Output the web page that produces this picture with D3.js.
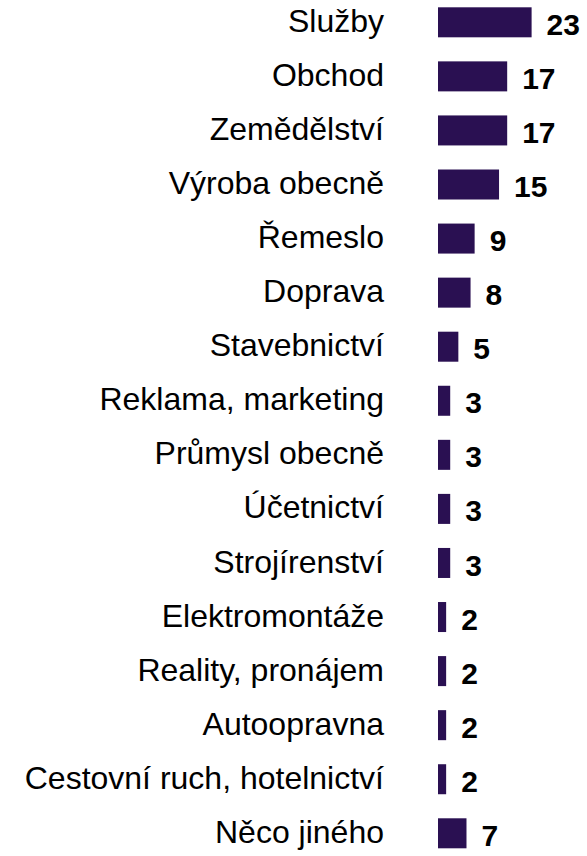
<!DOCTYPE html>
<html>
<head>
<meta charset="utf-8">
<script src="https://cdn.jsdelivr.net/npm/d3@7"></script>
<style>
  body { margin: 0; background: #fff; }
  svg { display: block; }
</style>
</head>
<body>
<svg id="chart" width="587" height="856"></svg>
<script>
const categories = [
    "Služby", "Obchod", "Zemědělství", "Výroba obecně", "Řemeslo", "Doprava",
    "Stavebnictví", "Reklama, marketing", "Průmysl obecně", "Účetnictví",
    "Strojírenství", "Elektromontáže", "Reality, pronájem", "Autoopravna",
    "Cestovní ruch, hotelnictví", "Něco jiného"
];
const values = [23, 17, 17, 15, 9, 8, 5, 3, 3, 3, 3, 2, 2, 2, 2, 7];

const data = categories.map((c, i) => ({name: c, value: values[i]}));

const svg = d3.select("#chart");
const barLeft = 438;
const labelRight = 384;

const x = d3.scaleLinear()
    .domain([0, 23])
    .range([barLeft, barLeft + 93.6]);

const y = d3.scaleBand()
    .domain(categories)
    .range([7.3, 848.3])
    .paddingInner(0.445)
    .paddingOuter(0);

// bars
svg.append("g")
    .selectAll("rect")
    .data(data)
    .join("rect")
    .attr("x", x(0))
    .attr("y", d => y(d.name))
    .attr("width", d => x(d.value) - x(0))
    .attr("height", y.bandwidth())
    .attr("fill", "#2a1052");

// category labels
svg.append("g")
    .attr("font-family", "'Liberation Sans', Arial, sans-serif")
    .attr("font-size", 32)
    .attr("fill", "#000")
    .attr("text-anchor", "end")
    .selectAll("text")
    .data(data)
    .join("text")
    .attr("x", labelRight)
    .attr("y", d => y(d.name) + y.bandwidth() / 2)
    .attr("dy", "0.3em")
    .text(d => d.name);

// value labels
svg.append("g")
    .attr("font-family", "'Liberation Sans', Arial, sans-serif")
    .attr("font-size", 30)
    .attr("font-weight", "bold")
    .attr("fill", "#000")
    .selectAll("text")
    .data(data)
    .join("text")
    .attr("x", d => x(d.value) + 15)
    .attr("y", d => y(d.name) + y.bandwidth() / 2)
    .attr("dy", "0.42em")
    .text(d => d.value);
</script>
</body>
</html>
